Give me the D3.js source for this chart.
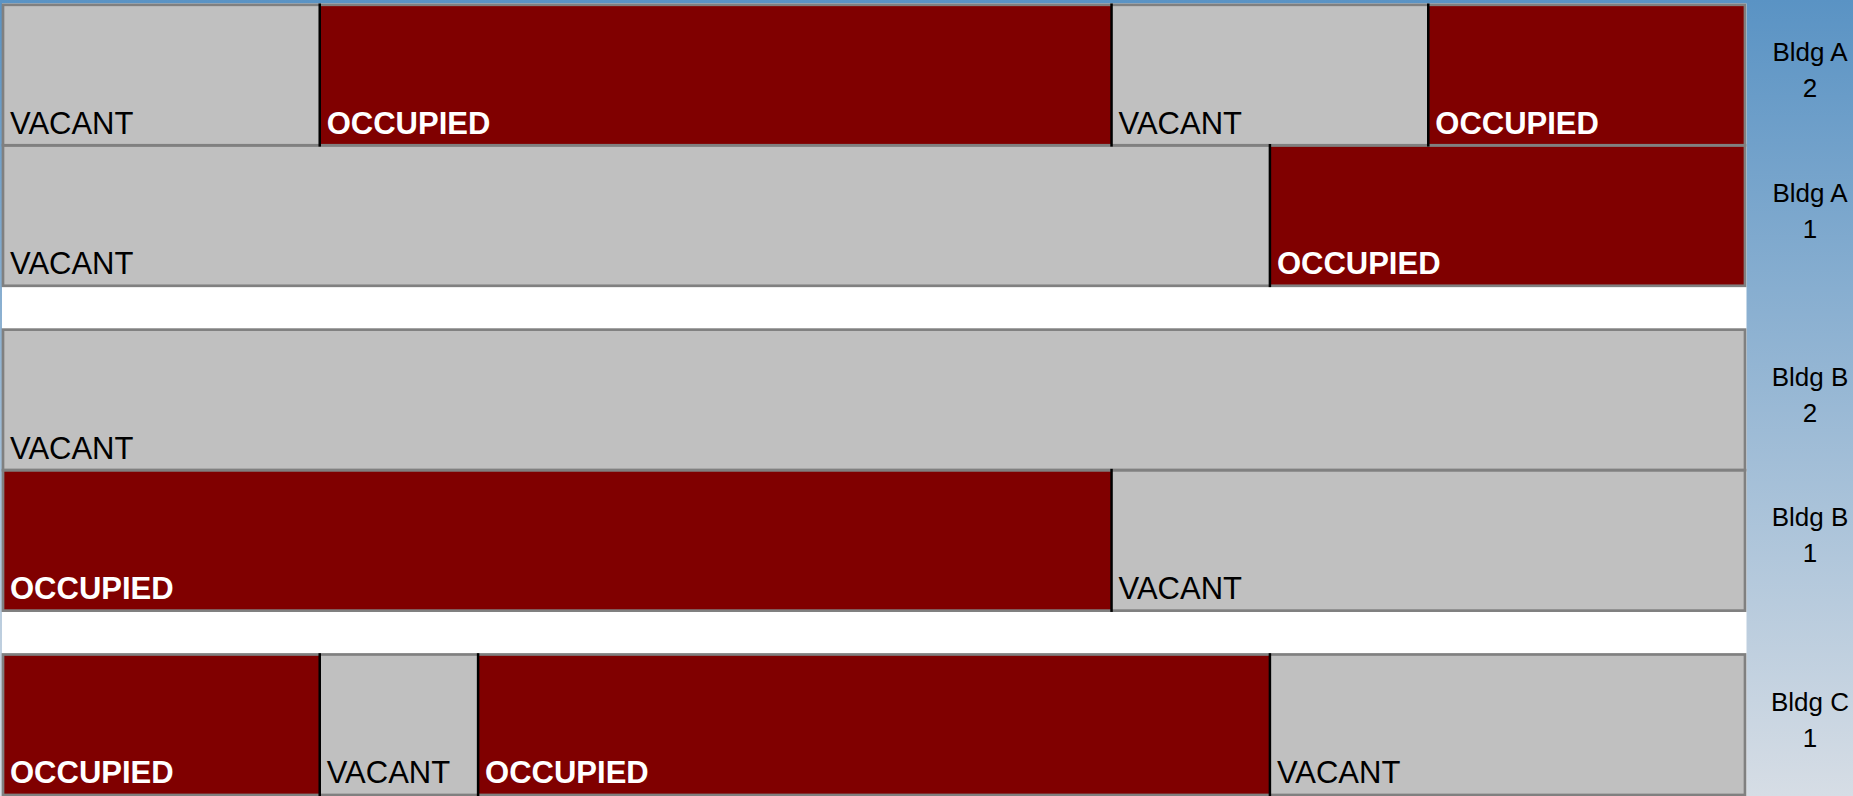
<!DOCTYPE html>
<html>
<head>
<meta charset="utf-8">
<script src="https://cdn.jsdelivr.net/npm/d3@7"></script>
<style>
  body { margin: 0; overflow: hidden; }
  text { font-family: "Liberation Sans", Arial, sans-serif; }
</style>
</head>
<body>
<script>
// floors, top to bottom
const floorNames = ['Bldg A', 'Bldg A', 'Bldg B', 'Bldg B', 'Bldg C'];
const floorLevels = ['2', '1', '2', '1', '1'];

// status of each stretch, left to right, per floor
const floorStatus = [
  ['VACANT', 'OCCUPIED', 'VACANT', 'OCCUPIED'],
  ['VACANT', 'OCCUPIED'],
  ['VACANT'],
  ['OCCUPIED', 'VACANT'],
  ['OCCUPIED', 'VACANT', 'OCCUPIED', 'VACANT']
];
// length of each stretch (months)
const floorMonths = [
  [2, 5, 2, 2],
  [8, 3],
  [11],
  [7, 4],
  [2, 1, 5, 3]
];
const totalMonths = 11;

const width = 1853, height = 796;
const colors = { VACANT: '#c0c0c0', OCCUPIED: '#800000' };

const svg = d3.select('body')
  .append('svg')
  .attr('width', width)
  .attr('height', height);

// background gradient
const grad = svg.append('defs').append('linearGradient')
  .attr('id', 'bg')
  .attr('x1', 0).attr('y1', 0).attr('x2', 0).attr('y2', 1);
grad.append('stop').attr('offset', '0%').attr('stop-color', '#5a93c4');
grad.append('stop').attr('offset', '100%').attr('stop-color', '#d6dde5');

svg.append('rect')
  .attr('width', width)
  .attr('height', height)
  .attr('fill', 'url(#bg)');

// scales
const x = d3.scaleLinear()
  .domain([0, totalMonths])
  .range([3, 1745]);

// a slot per floor, plus a small gap between buildings
const gap = 0.312;
const slots = [];
floorNames.forEach((b, i) => {
  let s = i === 0 ? 0 : slots[i - 1] + 1;
  if (i > 0 && b !== floorNames[i - 1]) s += gap;
  slots.push(s);
});

const y = d3.scaleLinear()
  .domain([0, 1])
  .range([4.8, 4.8 + 140.5]);

// white plot area
svg.append('rect')
  .attr('x', x(0) - 1)
  .attr('y', y(0) - 1.3)
  .attr('width', x(totalMonths) - x(0) + 2.5)
  .attr('height', height)
  .attr('fill', '#fff');

// flatten stretches
const segs = [];
floorStatus.forEach((row, i) => {
  const ends = Array.from(d3.cumsum(floorMonths[i]));
  row.forEach((status, j) => {
    segs.push({
      row: i,
      status,
      start: j === 0 ? 0 : ends[j - 1],
      end: ends[j],
      first: j === 0
    });
  });
});

const graph = svg.append('g');

graph.selectAll('rect.seg')
  .data(segs)
  .enter()
  .append('rect')
  .attr('class', 'seg')
  .attr('x', d => x(d.start))
  .attr('y', d => y(slots[d.row]))
  .attr('width', d => x(d.end) - x(d.start))
  .attr('height', d => y(slots[d.row] + 1) - y(slots[d.row]))
  .attr('fill', d => colors[d.status]);

// floor outlines
graph.selectAll('rect.floor')
  .data(floorNames)
  .enter()
  .append('rect')
  .attr('class', 'floor')
  .attr('x', x(0))
  .attr('y', (d, i) => y(slots[i]))
  .attr('width', x(totalMonths) - x(0))
  .attr('height', (d, i) => y(slots[i] + 1) - y(slots[i]))
  .attr('fill', 'none')
  .attr('stroke', '#808080')
  .attr('stroke-width', 2.7);

// black dividers between stretches
graph.selectAll('line.div')
  .data(segs.filter(d => !d.first))
  .enter()
  .append('line')
  .attr('class', 'div')
  .attr('x1', d => x(d.start))
  .attr('x2', d => x(d.start))
  .attr('y1', d => y(slots[d.row]) - 1.3)
  .attr('y2', d => y(slots[d.row] + 1) + 1.3)
  .attr('stroke', '#000')
  .attr('stroke-width', 2.5);

// stretch labels
graph.selectAll('text.seg')
  .data(segs)
  .enter()
  .append('text')
  .attr('class', 'seg')
  .attr('x', d => x(d.start) + 7)
  .attr('y', d => y(slots[d.row] + 1) - 11.5)
  .attr('font-size', 31)
  .attr('font-weight', d => d.status === 'OCCUPIED' ? 'bold' : 'normal')
  .attr('fill', d => d.status === 'OCCUPIED' ? '#fff' : '#000')
  .text(d => d.status);

// floor labels on the right
const labels = svg.selectAll('text.floor')
  .data(floorNames)
  .enter()
  .append('text')
  .attr('class', 'floor')
  .attr('text-anchor', 'middle')
  .attr('font-size', 26)
  .attr('fill', '#000');

labels.append('tspan')
  .attr('x', 1810)
  .attr('y', (d, i) => y(slots[i] + 0.5) - 14)
  .text(d => d);

labels.append('tspan')
  .attr('x', 1810)
  .attr('y', (d, i) => y(slots[i] + 0.5) + 22)
  .text((d, i) => floorLevels[i]);
</script>
</body>
</html>
